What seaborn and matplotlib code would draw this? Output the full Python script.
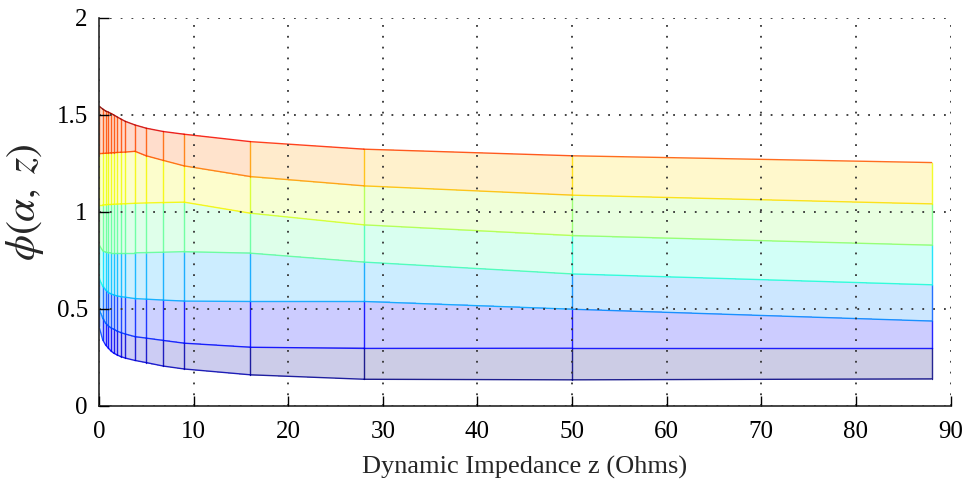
import numpy as np
import pandas as pd
import matplotlib
matplotlib.use("Agg")
import matplotlib.pyplot as plt
import seaborn as sns

# sample points along the impedance axis
z_ohms = [0, 0.4, 0.7, 1.0, 1.25, 1.55, 1.9, 2.3, 2.8, 3.8, 5.0, 6.8, 9.0, 16, 28, 50, 88]

# phi(alpha, z) curves (bottom curve first)
phi_1 = [0.41, 0.34, 0.314, 0.297, 0.284, 0.272, 0.263, 0.254, 0.246, 0.234, 0.223, 0.205, 0.19, 0.16, 0.137, 0.134, 0.139]
phi_2 = [0.50, 0.452, 0.426, 0.412, 0.403, 0.395, 0.386, 0.378, 0.37, 0.357, 0.349, 0.337, 0.323, 0.302, 0.296, 0.297, 0.297]
phi_3 = [0.658, 0.616, 0.598, 0.584, 0.578, 0.572, 0.567, 0.563, 0.56, 0.553, 0.55, 0.545, 0.54, 0.538, 0.538, 0.498, 0.437]
phi_4 = [0.83, 0.80, 0.792, 0.79, 0.789, 0.789, 0.789, 0.789, 0.789, 0.789, 0.79, 0.792, 0.795, 0.787, 0.741, 0.680, 0.624]
phi_5 = [1.036, 1.036, 1.037, 1.038, 1.038, 1.039, 1.04, 1.041, 1.042, 1.044, 1.046, 1.048, 1.05, 0.993, 0.933, 0.878, 0.828]
phi_6 = [1.30, 1.301, 1.302, 1.303, 1.304, 1.305, 1.306, 1.307, 1.308, 1.312, 1.289, 1.265, 1.237, 1.182, 1.134, 1.086, 1.041]
phi_7 = [1.545, 1.53, 1.52, 1.514, 1.507, 1.50, 1.49, 1.479, 1.466, 1.448, 1.431, 1.414, 1.40, 1.362, 1.323, 1.289, 1.254]

xticks = [0, 10, 20, 30, 40, 50, 60, 70, 80, 90]
yticks = [0, 0.5, 1, 1.5, 2]
ytick_labels = ["0", "0.5", "1", "1.5", "2"]

sns.set_style("ticks")
plt.rcParams["font.family"] = ["Liberation Serif", "DejaVu Serif"]
plt.rcParams["mathtext.fontset"] = "stix"

Y = np.array([phi_1, phi_2, phi_3, phi_4, phi_5, phi_6, phi_7])
X = np.tile(np.array(z_ohms, dtype=float), (Y.shape[0], 1))
cmap = matplotlib.colormaps["jet"]
norm = plt.Normalize(Y.min(), Y.max())

fig = plt.figure(figsize=(9.7, 4.82), dpi=100)
ax = fig.add_axes([0.102, 0.158, 0.878, 0.805])

# translucent faces, coloured by their lower-left corner like a flat-shaded surf
ax.pcolormesh(X, Y, Y[:-1, :-1], cmap=cmap, norm=norm, alpha=0.2,
              shading="flat", edgecolors="none")

# mesh edges as short segments
rows = []
seg = 0
n_a, n_z = Y.shape
for j in range(n_a):
    for i in range(n_z - 1):
        rows.append((z_ohms[i], Y[j, i], seg, Y[j, i]))
        rows.append((z_ohms[i + 1], Y[j, i + 1], seg, Y[j, i]))
        seg += 1
for i in range(n_z):
    for j in range(n_a - 1):
        rows.append((z_ohms[i], Y[j, i], seg, Y[j, i]))
        rows.append((z_ohms[i], Y[j + 1, i], seg, Y[j, i]))
        seg += 1
edges = pd.DataFrame(rows, columns=["z", "phi", "seg", "val"])

sns.lineplot(data=edges, x="z", y="phi", units="seg", hue="val", estimator=None,
             palette=cmap, hue_norm=norm, sort=False, legend=False,
             linewidth=1.0, alpha=0.85, ax=ax)

ax.set_xlim(0, 90)
ax.set_ylim(0, 2)
ax.set_xticks(xticks)
ax.set_yticks(yticks)
ax.set_yticklabels(ytick_labels)
ax.set_axisbelow(False)
ax.grid(True, color="0.2", linewidth=1.3, linestyle=(0, (1, 5)))
ax.tick_params(direction="in", length=7, width=1, labelsize=18, pad=8, colors="black")
ax.tick_params(axis="x", pad=11)
for s in ["top", "right"]:
    ax.spines[s].set_visible(False)
for s in ["left", "bottom"]:
    ax.spines[s].set_color("0.15")
    ax.spines[s].set_linewidth(1.2)

ax.set_xlabel("Dynamic Impedance z (Ohms)", fontsize=19, labelpad=9)
ax.set_ylabel(r"$\phi(\alpha,\;z)$", fontsize=30)
ax.yaxis.set_label_coords(-0.062, 0.525)

fig.savefig("out.png", dpi=100)
